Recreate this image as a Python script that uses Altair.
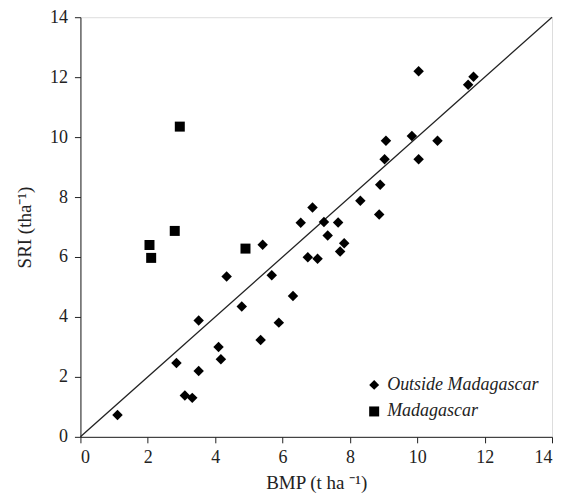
import altair as alt
import pandas as pd

# Outside Madagascar (BMP, SRI)
out_bmp = [1.10, 2.85, 3.10, 3.32, 3.51, 3.51, 4.10, 4.17, 4.34, 4.79, 5.35, 5.41, 5.68, 5.89,
           6.31, 6.54, 6.75, 6.89, 7.04, 7.23, 7.34, 7.65, 7.71, 7.83, 8.31, 8.87, 8.90, 9.03,
           9.07, 9.84, 10.04, 10.04, 10.60, 11.51, 11.67]
out_sri = [0.73, 2.46, 1.38, 1.30, 2.20, 3.88, 3.00, 2.59, 5.35, 4.35, 3.23, 6.41, 5.39, 3.81,
           4.70, 7.14, 5.99, 7.65, 5.94, 7.17, 6.72, 7.15, 6.18, 6.46, 7.88, 7.42, 8.41, 9.26,
           9.88, 10.04, 12.20, 9.26, 9.88, 11.75, 12.01]
# Madagascar
mad_bmp = [2.95, 2.05, 2.10, 2.80, 4.90]
mad_sri = [10.35, 6.40, 5.97, 6.87, 6.28]

groups = ["Outside Madagascar", "Madagascar"]
line_x = [0, 14]

df = pd.DataFrame({
    "BMP": out_bmp + mad_bmp,
    "SRI": out_sri + mad_sri,
    "group": [groups[0]] * len(out_bmp) + [groups[1]] * len(mad_bmp),
    "sz": [110] * len(out_bmp) + [100] * len(mad_bmp),
})
line_df = pd.DataFrame({"BMP": line_x, "SRI": line_x})

FONT = "Liberation Serif"

xs = alt.Scale(domain=[0, 14], nice=False, zero=True)
ys = alt.Scale(domain=[0, 14], nice=False, zero=True)

common = dict(grid=False, labelFontSize=18, titleFontSize=19, labelFont=FONT, titleFont=FONT,
              tickSize=6, domainColor="#222", tickColor="#222", labelColor="#222",
              titleColor="#222", titleFontWeight="normal")
xax = alt.Axis(values=list(range(0, 15, 2)), title="BMP (t ha ⁻¹)", labelPadding=6,
               titlePadding=7, **common)
yax = alt.Axis(values=list(range(0, 15, 2)), title="SRI (tha⁻¹)", labelPadding=7,
               titlePadding=15, **common)

line = alt.Chart(line_df).mark_line(color="#222", strokeWidth=1.3).encode(
    x=alt.X("BMP:Q", scale=xs, axis=xax),
    y=alt.Y("SRI:Q", scale=ys, axis=yax),
)

pts = alt.Chart(df).mark_point(filled=True, opacity=1, color="black").encode(
    x=alt.X("BMP:Q", scale=xs),
    y=alt.Y("SRI:Q", scale=ys),
    shape=alt.Shape("group:N",
                    scale=alt.Scale(domain=groups, range=["diamond", "square"]),
                    legend=alt.Legend(title=None, orient="none", legendX=285, legendY=359,
                                      labelFont=FONT, labelFontSize=18,
                                      labelFontStyle="italic", labelColor="#222",
                                      symbolFillColor="black", symbolStrokeColor="black",
                                      symbolSize=100, rowPadding=8.6, padding=0,
                                      labelOffset=4)),
    size=alt.Size("sz:Q", scale=None, legend=None),
)

chart = alt.layer(line, pts).properties(
    width=472, height=420,
    autosize=alt.AutoSizeParams(type="none"),
    padding={"left": 72.5, "top": 9, "right": 4, "bottom": 58},
).configure_view(stroke="#777", strokeWidth=1.2).configure(background="white")

chart.save("out.html", embed_options={"renderer": "svg", "actions": False})
